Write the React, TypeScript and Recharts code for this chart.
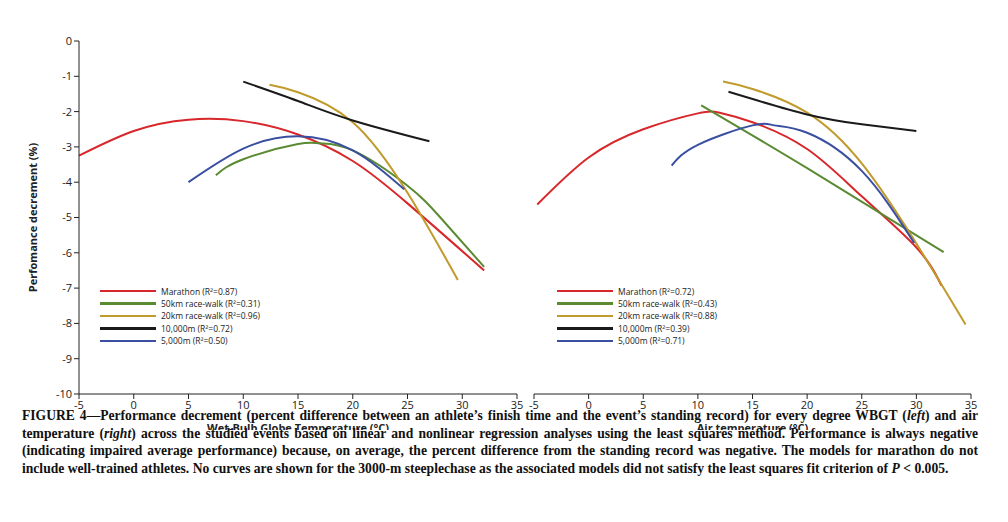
import React from "react";
import { Line, LineChart, XAxis, YAxis } from "recharts";

// left panel: WBGT
const wbgtMarathon = [
  { x: -5, y: -3.25 }, { x: 0, y: -2.55 }, { x: 5, y: -2.23 }, { x: 10, y: -2.27 },
  { x: 15, y: -2.65 }, { x: 20, y: -3.4 }, { x: 25, y: -4.6 }, { x: 32, y: -6.5 },
];
const wbgt50km = [
  { x: 7.5, y: -3.8 }, { x: 10, y: -3.35 }, { x: 15, y: -2.92 }, { x: 17, y: -2.9 },
  { x: 20, y: -3.1 }, { x: 25, y: -4.1 }, { x: 28, y: -5.0 }, { x: 32, y: -6.4 },
];
const wbgt20km = [
  { x: 12.4, y: -1.24 }, { x: 15, y: -1.45 }, { x: 20, y: -2.3 }, { x: 25, y: -4.3 }, { x: 29.6, y: -6.77 },
];
const wbgt10000 = [{ x: 10, y: -1.15 }, { x: 15, y: -1.7 }, { x: 20, y: -2.25 }, { x: 27, y: -2.84 }];
const wbgt5000 = [
  { x: 5, y: -4.0 }, { x: 10, y: -3.05 }, { x: 15, y: -2.7 }, { x: 20, y: -3.1 }, { x: 24.7, y: -4.2 },
];

// right panel: air temperature
const airMarathon = [
  { x: -4.7, y: -4.63 }, { x: 0, y: -3.3 }, { x: 5, y: -2.5 }, { x: 10, y: -2.05 }, { x: 12, y: -2.03 },
  { x: 15, y: -2.3 }, { x: 20, y: -3.06 }, { x: 25, y: -4.4 }, { x: 30, y: -5.85 }, { x: 32.3, y: -6.93 },
];
const air50km = [{ x: 10.3, y: -1.82 }, { x: 20, y: -3.6 }, { x: 32.5, y: -5.98 }];
const air20km = [
  { x: 12.3, y: -1.15 }, { x: 15, y: -1.36 }, { x: 20, y: -2.03 }, { x: 25, y: -3.47 },
  { x: 30, y: -5.74 }, { x: 34.5, y: -8.03 },
];
const air10000 = [{ x: 12.8, y: -1.44 }, { x: 20, y: -2.08 }, { x: 25, y: -2.36 }, { x: 30, y: -2.55 }];
const air5000 = [
  { x: 7.6, y: -3.53 }, { x: 10, y: -2.94 }, { x: 15, y: -2.39 }, { x: 17, y: -2.39 },
  { x: 20, y: -2.6 }, { x: 25, y: -3.68 }, { x: 29.8, y: -5.72 },
];

const xTicks = [-5, 0, 5, 10, 15, 20, 25, 30, 35];
const yTicks = [0, -1, -2, -3, -4, -5, -6, -7, -8, -9, -10];
const colors = ["#d8272a", "#5a8a32", "#c09a2a", "#1a1a1a", "#3a4fa0"];
const wbgtLabels = ["Marathon (R²=0.87)", "50km race-walk (R²=0.31)", "20km race-walk (R²=0.96)", "10,000m (R²=0.72)", "5,000m (R²=0.50)"];
const airLabels = ["Marathon (R²=0.72)", "50km race-walk (R²=0.43)", "20km race-walk (R²=0.88)", "10,000m (R²=0.39)", "5,000m (R²=0.71)"];

const font = "'Open Sans', sans-serif";
const tick = { fontSize: 11, fill: "#222", fontFamily: font };

const LegendBox = ({ labels, left }: { labels: string[]; left: number }) => (
  <div style={{ position: "absolute", left, top: 285, fontFamily: font, fontSize: 8.5, color: "#222" }}>
    {labels.map((l, i) => (
      <div key={l} style={{ display: "flex", alignItems: "center", height: 12.4 }}>
        <div style={{ width: 56, height: 2.5, background: colors[i], marginRight: 5 }} />
        {l}
      </div>
    ))}
  </div>
);

const Panel = ({ series, title, showY, left, width, ml, mr }: any) => (
  <div style={{ position: "absolute", left, top: 30 }}>
    <LineChart width={width} height={400} margin={{ top: 11, right: mr, bottom: 0, left: ml }}>
      <XAxis
        type="number" dataKey="x" domain={[-5, 35]} ticks={xTicks} tick={tick}
        tickLine={{ stroke: "#222" }} axisLine={{ stroke: "#222" }} tickSize={5} height={36}
        label={{ value: title, position: "insideBottom", offset: -2, style: { fontSize: 11, fontWeight: 700, fill: "#222", fontFamily: font } }}
      />
      <YAxis
        type="number" domain={[-10, 0]} ticks={yTicks} tick={tick} width={60} hide={!showY}
        tickLine={{ stroke: "#222" }} axisLine={{ stroke: "#222" }} tickSize={5}
        label={{ value: "Perfomance decrement (%)", angle: -90, position: "insideLeft", offset: 14, style: { fontSize: 11, fontWeight: 700, fill: "#222", fontFamily: font, textAnchor: "middle" } }}
      />
      {series.map((d: any, i: number) => (
        <Line key={i} data={d} dataKey="y" type="natural" stroke={colors[i]} strokeWidth={2}
          dot={false} isAnimationActive={false} />
      ))}
    </LineChart>
  </div>
);

export default function App() {
  return (
    <div style={{ position: "absolute", left: 0, top: 0, width: 1008, height: 522, background: "#fff" }}>
      <Panel series={[wbgtMarathon, wbgt50km, wbgt20km, wbgt10000, wbgt5000]}
        title="Wet-Bulb Globe Temperature (°C)" showY left={0} width={530} ml={19} mr={13} />
      <Panel series={[airMarathon, air50km, air20km, air10000, air5000]}
        title="Air temperature (°C)" showY={false} left={520} width={470} ml={14} mr={19} />
      <LegendBox labels={wbgtLabels} left={100} />
      <LegendBox labels={airLabels} left={557} />
      <div style={{ position: "absolute", left: 22, top: 407, width: 956, fontFamily: "'Liberation Serif', serif", fontWeight: 700, fontSize: 13.6, lineHeight: "17.5px", textAlign: "justify", color: "#111" }}>
        FIGURE 4—Performance decrement (percent difference between an athlete’s finish time and the event’s standing record) for every degree WBGT (<i>left</i>) and air temperature (<i>right</i>) across the studied events based on linear and nonlinear regression analyses using the least squares method. Performance is always negative (indicating impaired average performance) because, on average, the percent difference from the standing record was negative. The models for marathon do not include well-trained athletes. No curves are shown for the 3000-m steeplechase as the associated models did not satisfy the least squares fit criterion of <i>P</i> &lt; 0.005.
      </div>
    </div>
  );
}
